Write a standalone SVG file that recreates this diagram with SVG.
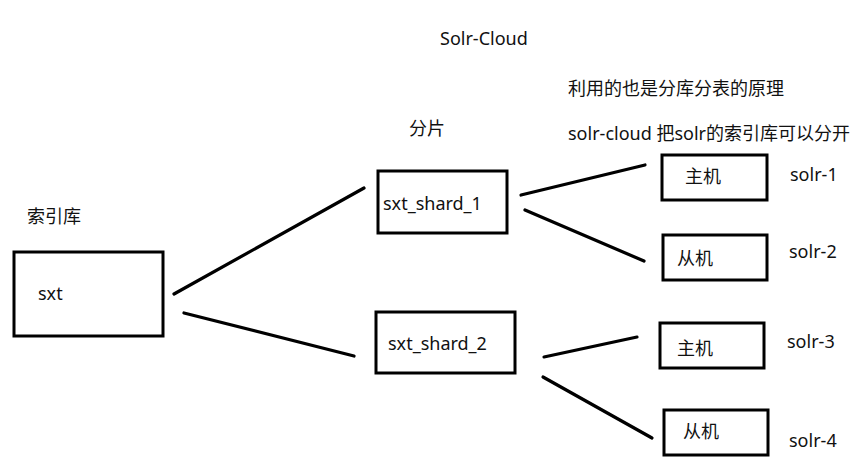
<svg xmlns="http://www.w3.org/2000/svg" width="860" height="468" viewBox="0 0 860 468">
<style>
text{font-family:"Noto Sans","Noto Sans CJK SC",sans-serif;font-size:18px;fill:#111}
.box{fill:#fff;stroke:#000;stroke-width:3}
.ln{stroke:#000;stroke-width:3.2;stroke-linecap:round;fill:none}
</style>
<rect width="860" height="468" fill="#fff"/>
<g id="labels">
<text x="440" y="45">Solr-Cloud</text>
<text x="568" y="95">利用的也是分库分表的原理</text>
<text x="568" y="140">solr-cloud 把solr的索引库可以分开</text>
<text x="409" y="135">分片</text>
<text x="27" y="223">索引库</text>
</g>
<g id="connectors">
<line class="ln" x1="174" y1="294" x2="364" y2="188"/>
<line class="ln" x1="184" y1="313" x2="354" y2="356"/>
<line class="ln" x1="521" y1="195" x2="645" y2="165"/>
<line class="ln" x1="525" y1="210" x2="644" y2="261"/>
<line class="ln" x1="544" y1="357" x2="637" y2="337"/>
<line class="ln" x1="543" y1="377" x2="652" y2="438"/>
</g>
<g id="sxt">
<rect class="box" x="14" y="252" width="149" height="84"/>
<text x="38" y="300">sxt</text>
</g>
<g id="shard1">
<rect class="box" x="378" y="171" width="129" height="62"/>
<text x="383" y="210">sxt_shard_1</text>
</g>
<g id="shard2">
<rect class="box" x="376" y="312" width="139" height="61"/>
<text x="388" y="350">sxt_shard_2</text>
</g>
<g id="master1">
<rect class="box" x="662" y="155" width="105" height="45"/>
<text x="685" y="183">主机</text>
<text x="790" y="181">solr-1</text>
</g>
<g id="slave1">
<rect class="box" x="663" y="235" width="104" height="45"/>
<text x="677" y="265">从机</text>
<text x="789" y="258">solr-2</text>
</g>
<g id="master2">
<rect class="box" x="660" y="323" width="104" height="45"/>
<text x="677" y="355">主机</text>
<text x="787" y="348">solr-3</text>
</g>
<g id="slave2">
<rect class="box" x="664" y="410" width="104" height="45"/>
<text x="683" y="438">从机</text>
<text x="789" y="447">solr-4</text>
</g>
</svg>
